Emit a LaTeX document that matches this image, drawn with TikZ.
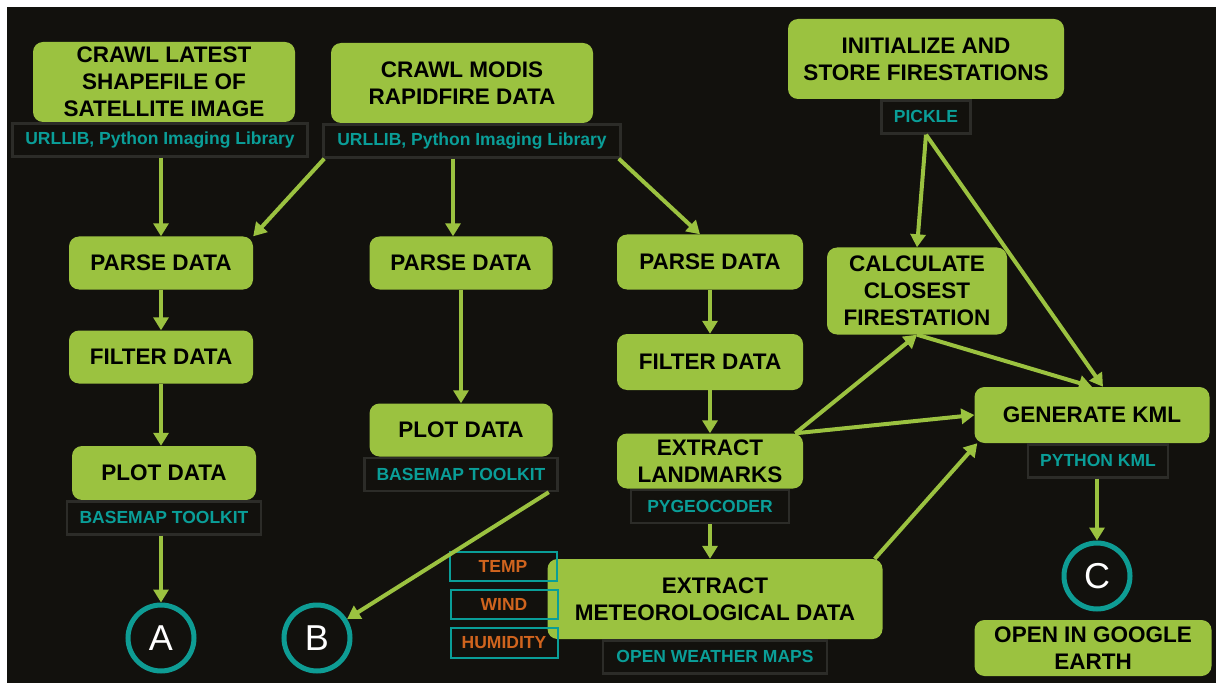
\documentclass[tikz,border=0pt]{standalone}
\usepackage{fontspec}
\setmainfont{Liberation Sans}
\usetikzlibrary{positioning,arrows.meta}
\definecolor{bg}{RGB}{18,17,13}
\definecolor{grn}{RGB}{155,194,64}
\definecolor{libline}{RGB}{44,44,40}
\definecolor{tealtxt}{RGB}{10,158,152}
\definecolor{tealc}{RGB}{14,156,148}
\definecolor{orng}{RGB}{208,100,30}
\begin{document}
\begin{tikzpicture}[x=1pt, y=-1pt,
    box/.style = {fill=grn, rounded corners=10pt, align=center, inner sep=0pt, font=\fontsize{22.5}{27}\selectfont\bfseries},
    lib/.style = {fill=bg, draw=libline, line width=2.5pt, inner sep=0pt, text=tealtxt, minimum height=33pt, font=\fontsize{17.5}{21}\selectfont\bfseries},
    var/.style = {draw=tealtxt, line width=2pt, inner sep=0pt, text=orng, minimum width=107pt, minimum height=29pt, font=\fontsize{17.5}{21}\selectfont\bfseries},
    conn/.style = {circle, draw=tealc, line width=5pt, minimum size=66pt, inner sep=0pt, text=white, font=\fontsize{36}{40}\selectfont},
    arr/.style = {draw=grn, line width=4pt, -{Triangle[length=13pt,width=15pt]}}]
    \fill[white] (0,0) rectangle (1224,687);
    \fill[bg] (7,7) rectangle (1216,683);

    \node[box, minimum width=262pt, minimum height=80pt] (crawl1) at (164,82) {CRAWL LATEST\\SHAPEFILE OF\\SATELLITE IMAGE};
    \node[box, minimum width=262pt, minimum height=80pt] (crawl2) at (462,83) {CRAWL MODIS\\RAPIDFIRE DATA};
    \node[box, minimum width=276pt, minimum height=80pt] (init) at (926,59) {INITIALIZE AND\\STORE FIRESTATIONS};
    \node[box, minimum width=184pt, minimum height=53pt] (parse1) at (161,263) {PARSE DATA};
    \node[box, minimum width=184pt, minimum height=53pt] (filter1) at (161,357) {FILTER DATA};
    \node[box, minimum width=184pt, minimum height=54pt] (plot1) at (164,473) {PLOT DATA};
    \node[box, minimum width=183pt, minimum height=53pt] (parse2) at (461,263) {PARSE DATA};
    \node[box, minimum width=183pt, minimum height=53pt] (plot2) at (461,430) {PLOT DATA};
    \node[box, minimum width=186pt, minimum height=55pt] (parse3) at (710,262) {PARSE DATA};
    \node[box, minimum width=186pt, minimum height=56pt] (filter3) at (710,362) {FILTER DATA};
    \node[box, minimum width=186pt, minimum height=55pt] (extract) at (710,461) {EXTRACT\\LANDMARKS};
    \node[box, minimum width=180pt, minimum height=87pt] (calc) at (917,291) {CALCULATE\\CLOSEST\\FIRESTATION};
    \node[box, minimum width=235pt, minimum height=56pt] (genkml) at (1092,415) {GENERATE KML};
    \node[box, minimum width=237pt, minimum height=56pt] (google) at (1093,648) {OPEN IN GOOGLE\\EARTH};
    \node[box, minimum width=335pt, minimum height=80pt] (meteo) at (715,599) {EXTRACT\\METEOROLOGICAL DATA};

    \node[lib, minimum width=295pt, below=0pt of crawl1, xshift=-4pt] (lib1) {URLLIB, Python Imaging Library};
    \node[lib, minimum width=297pt, below=0pt of crawl2, xshift=10pt] (lib2) {URLLIB, Python Imaging Library};
    \node[lib, minimum width=89pt, below=0pt of init] (pickle) {PICKLE};
    \node[lib, minimum width=194pt, below=0pt of plot1] (bm1) {BASEMAP TOOLKIT};
    \node[lib, minimum width=193pt, below=0pt of plot2] (bm2) {BASEMAP TOOLKIT};
    \node[lib, minimum width=158pt, below=0pt of extract] (pygeo) {PYGEOCODER};
    \node[lib, minimum width=140pt, below=0pt of genkml, xshift=6pt] (pykml) {PYTHON KML};
    \node[lib, minimum width=224pt, below=0pt of meteo] (owm) {OPEN WEATHER MAPS};

    \node[var] (temp) at (503,566) {TEMP};
    \node[var] (wind) at (504,604) {WIND};
    \node[var, minimum height=30pt] (humid) at (504,643) {HUMIDITY};

    \node[conn] (cA) at (161,638) {A};
    \node[conn] (cB) at (317,638) {B};
    \node[conn] (cC) at (1097,576) {C};

    \draw[arr] (lib1.south -| parse1) -- (parse1);
    \draw[arr] ([xshift=2pt]lib2.south west) -- (parse1.north east);
    \draw[arr] ([xshift=-19pt]lib2.south) -- ([xshift=-8pt]parse2.north);
    \draw[arr] ([xshift=-3pt]lib2.south east) -- ([xshift=-10pt]parse3.north);
    \draw[arr] (parse1) -- (filter1);
    \draw[arr] (filter1.south) -- (filter1.south |- plot1.north);
    \draw[arr] (bm1.south -| cA) -- (cA);
    \draw[arr] (parse2) -- (plot2);
    \draw[arr] ([xshift=-10pt]bm2.south east) -- (cB);
    \draw[arr] (parse3) -- (filter3);
    \draw[arr] (filter3) -- (extract);
    \draw[arr] (pygeo.south) -- (pygeo.south |- meteo.north);
    \draw[arr] ([xshift=-8pt]extract.north east) -- (calc.south);
    \draw[arr] ([xshift=-8pt]extract.north east) -- (genkml.west);
    \draw[arr] ([xshift=-8pt]meteo.north east) -- ([xshift=3pt]genkml.south west);
    \draw[arr] (calc.south) -- (genkml.north);
    \draw[arr] (pickle.south) -- (calc.north);
    \draw[arr] (pickle.south) -- ([xshift=11pt]genkml.north);
    \draw[arr] (pykml.south -| cC) -- (cC);
\end{tikzpicture}
\end{document}
